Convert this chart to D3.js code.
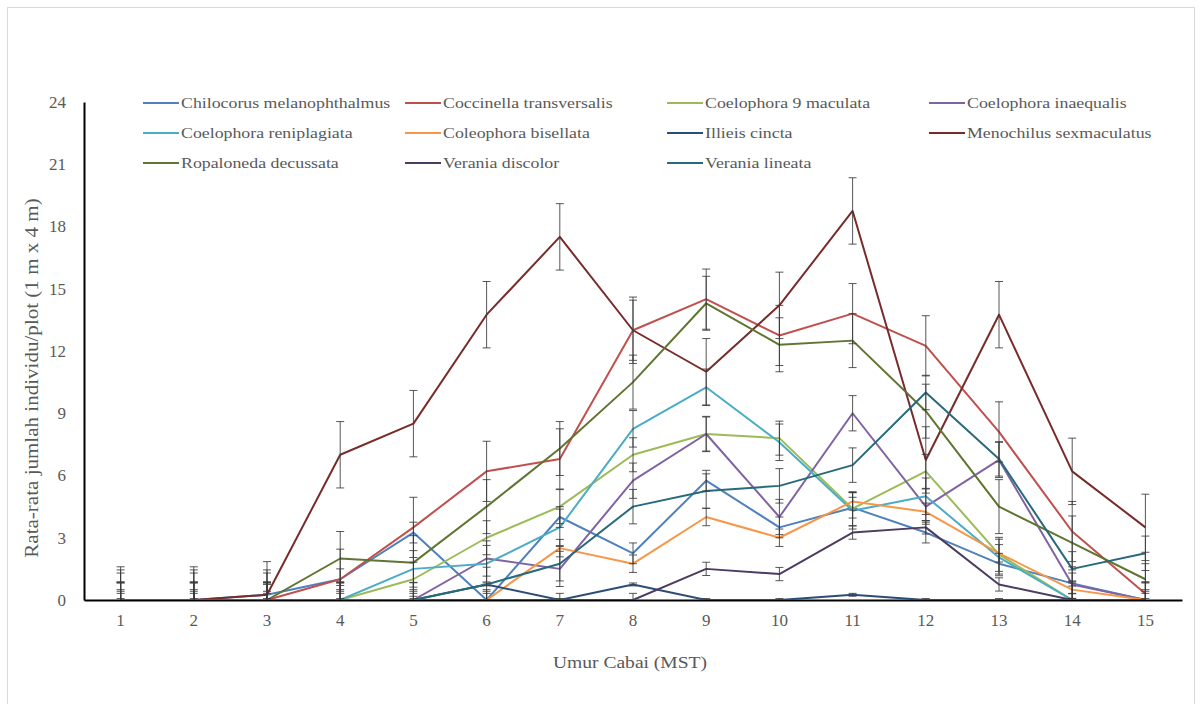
<!DOCTYPE html>
<html>
<head>
<meta charset="utf-8">
<script src="https://cdn.jsdelivr.net/npm/d3@7/dist/d3.min.js"></script>
<style>
  body { margin: 0; background: #fff; }
</style>
</head>
<body>
<svg id="chart" width="1202" height="704" font-family="Liberation Serif"></svg>
<script>
// ==========================
// DATA
// ==========================
const weeks = ["1", "2", "3", "4", "5", "6", "7", "8", "9", "10", "11", "12", "13", "14", "15"];
const yTicks = [0, 3, 6, 9, 12, 15, 18, 21, 24];

const seriesNames = [
  "Chilocorus melanophthalmus", "Coccinella transversalis", "Coelophora 9 maculata",
  "Coelophora inaequalis", "Coelophora reniplagiata", "Coleophora bisellata",
  "Illieis cincta", "Menochilus sexmaculatus", "Ropaloneda decussata",
  "Verania discolor", "Verania lineata"
];

const chilocorus   = [0, 0, 0.25, 1.0, 3.25, 0, 4.0, 2.25, 5.75, 3.5, 4.45, 3.25, 1.75, 0.8, 0];
const coccinella   = [0, 0, 0, 1.0, 3.5, 6.2, 6.8, 13.0, 14.5, 12.75, 13.8, 12.25, 8.1, 3.3, 0.3];
const maculata     = [0, 0, 0, 0, 1.0, 3.0, 4.5, 7.0, 8.0, 7.8, 4.4, 6.2, 2.2, 0, 0];
const inaequalis   = [0, 0, 0, 0, 0, 2.0, 1.5, 5.75, 8.0, 4.0, 9.0, 4.5, 6.75, 0.75, 0];
const reniplagiata = [0, 0, 0, 0, 1.5, 1.75, 3.5, 8.25, 10.25, 7.6, 4.3, 5.0, 2.05, 0, 0];
const bisellata    = [0, 0, 0, 0, 0, 0, 2.5, 1.75, 4.0, 3.0, 4.75, 4.25, 2.25, 0.5, 0];
const illieis      = [0, 0, 0, 0, 0, 0.75, 0, 0.75, 0, 0, 0.25, 0, 0, 0, 0];
const menochilus   = [0, 0, 0.25, 7.0, 8.5, 13.75, 17.5, 13.0, 11.0, 14.2, 18.75, 6.75, 13.75, 6.2, 3.5];
const ropaloneda   = [0, 0, 0, 2.0, 1.8, 4.5, 7.3, 10.5, 14.3, 12.3, 12.5, 9.1, 4.5, 2.75, 1.0];
const discolor     = [0, 0, 0, 0, 0, 0, 0, 0, 1.5, 1.25, 3.25, 3.5, 0.75, 0, 0];
const lineata      = [0, 0, 0, 0, 0, 0.75, 1.75, 4.5, 5.25, 5.5, 6.5, 10.0, 6.8, 1.5, 2.25];

// error bar half-length per series (same for every point of a series)
const errorSizes = [0.5, 1.45, 0.82, 0.85, 0.88, 0.42, 0.07, 1.6, 1.3, 0.32, 0.83];

const colors = [
  "#4F81BD", "#C0504D", "#9BBB59", "#8064A2", "#4BACC6", "#F79646",
  "#2C4D75", "#772C2A", "#5F7530", "#4D3B62", "#276A7C"
];

const seriesValues = [chilocorus, coccinella, maculata, inaequalis, reniplagiata, bisellata,
  illieis, menochilus, ropaloneda, discolor, lineata];

const series = seriesNames.map((name, i) => ({
  name: name,
  values: seriesValues[i],
  err: errorSizes[i],
  color: colors[i]
}));

// ==========================
// LAYOUT
// ==========================
const FONT = "Liberation Serif";
const TEXT_COLOR = "#595959";
const svg = d3.select("#chart");
const plot = { left: 84, right: 1182, top: 102, bottom: 600 };

// light chart frame
svg.append("rect")
  .attr("x", 7.5).attr("y", 7.5)
  .attr("width", 1187).attr("height", 720)
  .attr("fill", "none")
  .attr("stroke", "#d9d9d9")
  .attr("stroke-width", 1);

const x = d3.scaleBand()
  .domain(weeks)
  .range([plot.left, plot.right])
  .padding(0);
const cx = d => x(d) + x.bandwidth() / 2;

const y = d3.scaleLinear()
  .domain([0, 24])
  .range([plot.bottom, plot.top]);

svg.append("defs").append("clipPath")
  .attr("id", "plot-clip")
  .append("rect")
  .attr("x", plot.left).attr("y", plot.top)
  .attr("width", plot.right - plot.left)
  .attr("height", plot.bottom - plot.top);

// ==========================
// AXES
// ==========================
const yAxis = svg.append("g")
  .attr("transform", `translate(${plot.left},0)`)
  .call(d3.axisLeft(y).tickValues(yTicks).tickSize(0).tickPadding(18));
yAxis.attr("font-family", FONT).attr("font-size", 17);
yAxis.select(".domain").attr("stroke", "#000").attr("stroke-width", 2);
yAxis.selectAll("text")
  .attr("fill", TEXT_COLOR)
  .attr("dy", "0.32em");

const xAxis = svg.append("g")
  .attr("transform", `translate(0,${plot.bottom})`)
  .call(d3.axisBottom(x).tickSize(0).tickPadding(14));
xAxis.attr("font-family", FONT).attr("font-size", 17);
xAxis.select(".domain").attr("stroke", "#000").attr("stroke-width", 2);
xAxis.selectAll("text").attr("fill", TEXT_COLOR);

svg.append("text")
  .attr("transform", "translate(630,668) scale(1.15,1)")
  .attr("text-anchor", "middle")
  .attr("font-family", FONT)
  .attr("font-size", 17)
  .attr("fill", TEXT_COLOR)
  .text("Umur Cabai (MST)");

svg.append("text")
  .attr("transform", "translate(38,378) rotate(-90) scale(1.17,1)")
  .attr("text-anchor", "middle")
  .attr("font-family", FONT)
  .attr("font-size", 18)
  .attr("fill", TEXT_COLOR)
  .text("Rata-rata jumlah individu/plot (1 m x 4 m)");

// ==========================
// LINES + ERROR BARS
// ==========================
const plotG = svg.append("g").attr("clip-path", "url(#plot-clip)");

const line = d3.line()
  .x((d, i) => cx(weeks[i]))
  .y(d => y(d));

series.forEach(s => {
  plotG.append("path")
    .datum(s.values)
    .attr("fill", "none")
    .attr("stroke", s.color)
    .attr("stroke-width", 2)
    .attr("stroke-linejoin", "round")
    .attr("d", line);
});

series.forEach(s => {
  const g = plotG.append("g").attr("class", "err");
  s.values.forEach((v, i) => {
    const px = cx(weeks[i]);
    const y1 = y(v - s.err), y2 = y(v + s.err);
    g.append("line")
      .attr("x1", px).attr("x2", px)
      .attr("y1", y1).attr("y2", y2);
    [y1, y2].forEach(yy => {
      g.append("line")
        .attr("x1", px - 4).attr("x2", px + 4)
        .attr("y1", yy).attr("y2", yy);
    });
  });
  g.selectAll("line")
    .attr("stroke", "#3a3a3a")
    .attr("stroke-opacity", 0.85)
    .attr("stroke-width", 1);
});

// ==========================
// LEGEND
// ==========================
const legend = svg.append("g");
series.forEach((s, i) => {
  const col = i % 4, row = Math.floor(i / 4);
  const lx = 143 + col * 262;
  const ly = 103 + row * 30;
  legend.append("line")
    .attr("x1", lx).attr("x2", lx + 36)
    .attr("y1", ly).attr("y2", ly)
    .attr("stroke", s.color)
    .attr("stroke-width", 2);
  legend.append("text")
    .attr("transform", `translate(${lx + 38},${ly}) scale(1.15,1)`)
    .attr("dominant-baseline", "central")
    .attr("font-family", FONT)
    .attr("font-size", 15.5)
    .attr("fill", TEXT_COLOR)
    .text(s.name);
});
</script>
</body>
</html>
